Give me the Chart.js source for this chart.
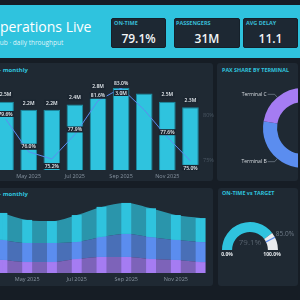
<!DOCTYPE html>
<html lang="en">
<head>
<meta charset="UTF-8">
<title>Operations Live</title>
<script src="https://cdn.jsdelivr.net/npm/chart.js"></script>
<style>
  body { margin: 0; width: 300px; height: 300px; overflow: hidden; position: relative;
         background: #161d25; font-family: 'Open Sans', sans-serif; }
  .abs { position: absolute; white-space: nowrap; }
  .header { left: 0; top: 5px; width: 300px; height: 53px; background: #2fc3de; }
  .title { left: -11px; top: 19.6px; font-size: 14px; line-height: 14px; color: #fff; }
  .sub { left: -5px; top: 39.5px; font-size: 6.5px; line-height: 6.5px; color: rgba(255,255,255,0.85); }
  .card { background: #1d2833; border: 1px solid #15202a; border-radius: 2px; box-sizing: border-box; top: 18px; height: 30px; }
  .klbl { top: 21.2px; font-size: 5.5px; line-height: 5.5px; font-weight: 700; color: #38bcd6; }
  .kval { top: 32.5px; font-size: 12px; line-height: 12px; font-weight: 600; color: #f2f5f7; text-align: center; }
  .panel { background: #1f2933; border-radius: 3px; overflow: hidden; }
  .ptitle { font-weight: 700; color: #2fc3de; }
  .box { position: absolute; }
</style>
</head>
<body>
  <div class="abs header"></div>
  <div class="abs title">Operations Live</div>
  <div class="abs sub">Hub · daily throughput</div>

  <div class="abs card" style="left:111px;width:55px"></div>
  <div class="abs card" style="left:174px;width:66px"></div>
  <div class="abs card" style="left:243px;width:55px"></div>
  <div class="abs klbl" style="left:114px">ON-TIME</div>
  <div class="abs klbl" style="left:176px">PASSENGERS</div>
  <div class="abs klbl" style="left:246px">AVG DELAY</div>
  <div class="abs kval" id="kv0" style="left:111px;width:55px"></div>
  <div class="abs kval" id="kv1" style="left:174px;width:66px"></div>
  <div class="abs kval" id="kv2" style="left:243px;width:55px"></div>

  <div class="abs panel" style="left:-10px;top:63px;width:223px;height:118px"></div>
  <div class="abs panel" id="paxPanel" style="left:217px;top:63px;width:81px;height:118px">
    <div class="box" style="left:1px;top:15px;width:170px;height:100px"><canvas id="shareChart"></canvas></div>
  </div>
  <div class="abs panel" style="left:-10px;top:188px;width:223px;height:98px"></div>
  <div class="abs panel" style="left:218px;top:188px;width:80px;height:98px"></div>

  <div class="abs ptitle" style="right:272px;top:66.5px;font-size:6px;line-height:6px">Passengers &amp; on-time % — monthly</div>
  <div class="abs ptitle" style="left:222px;top:68.2px;font-size:5.4px;line-height:5.4px">PAX SHARE BY TERMINAL</div>
  <div class="abs ptitle" style="right:272px;top:190.7px;font-size:6px;line-height:6px">Passengers by terminal – monthly</div>
  <div class="abs ptitle" style="left:222px;top:191px;font-size:5.4px;line-height:5.4px">ON-TIME vs TARGET</div>

  <div class="box" style="left:-16px;top:80px;width:232px;height:102px"><canvas id="paxChart"></canvas></div>
  <div class="box" style="left:-20px;top:196px;width:233px;height:89px"><canvas id="termChart"></canvas></div>
  <div class="box" style="left:212px;top:216px;width:90px;height:46px"><canvas id="gaugeChart"></canvas></div>

<script>
// data
const months = ['Apr 2025', 'May 2025', 'Jun 2025', 'Jul 2025', 'Aug 2025', 'Sep 2025', 'Oct 2025', 'Nov 2025', 'Dec 2025'];
const passengersM = [2.5, 2.2, 2.2, 2.4, 2.8, 3.0, 2.8, 2.5, 2.3];
const onTimePct = [79.6, 76.0, 75.2, 77.9, 81.6, 83.0, 80.6, 77.6, 75.0];

const terminals = ['Terminal A', 'Terminal B', 'Terminal C'];
const terminalShare = [13.8, 10.3, 6.9];
const termA = [1.16, 0.99, 0.94, 1.16, 1.29, 1.33, 1.24, 1.07, 1.03];
const termB = [0.86, 0.82, 0.82, 0.73, 0.86, 0.99, 0.94, 0.86, 0.86];
const termC = [0.56, 0.47, 0.47, 0.60, 0.69, 0.69, 0.60, 0.56, 0.47];

const kpiValues = ['79.1%', '31M', '11.1'];
const onTime = 79.1;
const onTimeTarget = 85.0;

const CYAN = '#2fc3de', BLUE = '#5b8def', PURPLE = '#a57cf2';

kpiValues.forEach((v, i) => { document.getElementById('kv' + i).textContent = v; });

Chart.defaults.font.family = "'Open Sans', sans-serif";
Chart.defaults.animation = false;

function labelBox(ctx, text, x, y) {
    ctx.font = '600 5px "Open Sans"';
    const w = ctx.measureText(text).width + 3;
    ctx.fillStyle = '#1b2530';
    ctx.fillRect(x - w / 2, y - 3, w, 6);
    ctx.fillStyle = '#e8edf1';
    ctx.textAlign = 'center';
    ctx.textBaseline = 'middle';
    ctx.fillText(text, x, y + 0.3);
}

// value boxes on bars and on the on-time line
const valueLabels = {
    id: 'valueLabels',
    afterDatasetsDraw(chart) {
        const ctx = chart.ctx;
        const bars = chart.getDatasetMeta(0).data;
        const pts = chart.getDatasetMeta(1).data;
        const axisMin = chart.scales.y1.min;
        ctx.save();
        months.forEach((m, i) => {
            if (m === 'Oct 2025') return; // no labels shown for October in the reference
            const p = pts[i], b = bars[i];
            const pctY = onTimePct[i] - axisMin < 1.5 ? p.y + 7 : p.y - 5;
            let barY = b.y - 7;
            if (Math.abs(barY - pctY) < 7) barY = b.y + 5;
            labelBox(ctx, passengersM[i].toFixed(1) + 'M', b.x, barY);
            labelBox(ctx, onTimePct[i].toFixed(1) + '%', p.x, pctY);
        });
        ctx.restore();
    }
};

new Chart(document.getElementById('paxChart'), {
    type: 'bar',
    data: {
        labels: months,
        datasets: [
            { type: 'bar', data: passengersM, backgroundColor: CYAN, borderColor: '#1a8ba2', borderWidth: 1, yAxisID: 'y', order: 2 },
            { type: 'line', data: onTimePct, borderColor: BLUE, borderWidth: 1, pointRadius: 0, tension: 0, yAxisID: 'y1', order: 1 }
        ]
    },
    options: {
        responsive: true,
        maintainAspectRatio: false,
        layout: { padding: { left: 10, top: 8, right: 0, bottom: 0 } },
        plugins: { legend: { display: false }, tooltip: { enabled: false } },
        scales: {
            x: {
                grid: { display: false, drawTicks: false },
                border: { display: false },
                ticks: { autoSkip: false, maxRotation: 0, padding: 3, color: '#8793a0', font: { size: 5.5 },
                         callback: (v, i) => i % 2 === 1 ? months[i] : '' },
                afterFit: s => { s.height = 12; }
            },
            y: { display: false, min: 0, max: 3.0 },
            y1: {
                position: 'right', min: 74, max: 83,
                grid: { display: false, drawTicks: false },
                border: { display: false },
                ticks: { padding: 1, color: '#4b5764', font: { size: 5.5 }, callback: v => v + '%' },
                afterBuildTicks: s => { s.ticks = [{ value: 75 }, { value: 80 }]; },
                afterFit: s => { s.width = 14; }
            }
        }
    },
    plugins: [valueLabels]
});

// leader-line labels for the terminal doughnut
const terminalLabels = {
    id: 'terminalLabels',
    afterDatasetsDraw(chart) {
        const ctx = chart.ctx;
        ctx.save();
        ctx.font = '5px "Open Sans"';
        ctx.textBaseline = 'middle';
        chart.getDatasetMeta(0).data.forEach((arc, i) => {
            const mid = (arc.startAngle + arc.endAngle) / 2;
            const r = arc.outerRadius;
            const x1 = arc.x + Math.cos(mid) * r, y1 = arc.y + Math.sin(mid) * r;
            const x2 = arc.x + Math.cos(mid) * (r + 4), y2 = arc.y + Math.sin(mid) * (r + 4);
            const left = Math.cos(mid) < 0;
            const x3 = left ? x2 - 7 : x2 + 7;
            ctx.strokeStyle = '#8a95a1';
            ctx.lineWidth = 0.6;
            ctx.beginPath();
            ctx.moveTo(x1, y1); ctx.lineTo(x2, y2); ctx.lineTo(x3, y2);
            ctx.stroke();
            ctx.fillStyle = '#d9dee3';
            ctx.textAlign = left ? 'right' : 'left';
            ctx.fillText(terminals[i], left ? x3 - 1 : x3 + 1, y2);
        });
        ctx.restore();
    }
};

new Chart(document.getElementById('shareChart'), {
    type: 'doughnut',
    data: {
        labels: terminals,
        datasets: [{ data: terminalShare, backgroundColor: [CYAN, BLUE, PURPLE], borderWidth: 0 }]
    },
    options: {
        responsive: true,
        maintainAspectRatio: false,
        cutout: '65%',
        layout: { padding: 10 },
        plugins: { legend: { display: false }, tooltip: { enabled: false } }
    },
    plugins: [terminalLabels]
});

function fade(hex, a) {
    const n = parseInt(hex.slice(1), 16);
    return `rgba(${n >> 16}, ${(n >> 8) & 255}, ${n & 255}, ${a})`;
}

// stacked areas over thin stacked bars
const areaDs = (data, color, fill) => ({
    type: 'line', data, fill, backgroundColor: fade(color, 0.7), borderColor: 'transparent', borderWidth: 0,
    pointRadius: 0, cubicInterpolationMode: 'monotone', order: 1
});
const barDs = (data, color) => ({
    type: 'bar', data, backgroundColor: color, borderWidth: 0, barPercentage: 0.5, categoryPercentage: 0.8, order: 2
});

new Chart(document.getElementById('termChart'), {
    type: 'bar',
    data: {
        labels: months,
        datasets: [
            areaDs(termC, PURPLE, 'origin'),
            areaDs(termB, BLUE, '-1'),
            areaDs(termA, CYAN, '-1'),
            barDs(termC, PURPLE),
            barDs(termB, BLUE),
            barDs(termA, CYAN)
        ]
    },
    options: {
        responsive: true,
        maintainAspectRatio: false,
        layout: { padding: { left: 10, top: 6, right: 0, bottom: 0 } },
        plugins: { legend: { display: false }, tooltip: { enabled: false } },
        scales: {
            x: {
                stacked: true,
                grid: { display: false, drawTicks: false },
                border: { display: false },
                ticks: { autoSkip: false, maxRotation: 0, padding: 3, color: '#8793a0', font: { size: 5.5 },
                         callback: (v, i) => i % 2 === 1 ? months[i] : '' },
                afterFit: s => { s.height = 12; }
            },
            y: { display: false, stacked: true, min: 0, max: 3.05 }
        }
    }
});

// target tick and texts for the gauge
const gaugeMarks = {
    id: 'gaugeMarks',
    afterDatasetsDraw(chart) {
        const ctx = chart.ctx;
        const arc = chart.getDatasetMeta(0).data[0];
        const cx = arc.x, cy = arc.y, ri = arc.innerRadius, ro = arc.outerRadius;
        const a = Math.PI * (1 + onTimeTarget / 100);
        ctx.save();
        ctx.strokeStyle = BLUE;
        ctx.lineWidth = 1.2;
        ctx.beginPath();
        ctx.moveTo(cx + Math.cos(a) * ri, cy + Math.sin(a) * ri);
        ctx.lineTo(cx + Math.cos(a) * ro, cy + Math.sin(a) * ro);
        ctx.stroke();

        ctx.textBaseline = 'middle';
        ctx.font = '6.5px "Open Sans"';
        ctx.fillStyle = '#6f7b88';
        ctx.textAlign = 'left';
        ctx.fillText(onTimeTarget.toFixed(1) + '%', cx + Math.cos(a) * (ro + 1), cy + Math.sin(a) * (ro + 1) - 3);

        ctx.font = '8px "Open Sans"';
        ctx.fillStyle = '#56616d';
        ctx.textAlign = 'center';
        ctx.fillText(onTime.toFixed(1) + '%', cx, cy - 7);

        const rm = (ri + ro) / 2;
        ctx.font = '700 5px "Open Sans"';
        ctx.fillStyle = '#e6eaee';
        ctx.fillText('0.0%', cx - rm, cy + 5);
        ctx.fillText('100.0%', cx + rm - 1, cy + 5);
        ctx.restore();
    }
};

new Chart(document.getElementById('gaugeChart'), {
    type: 'doughnut',
    data: {
        labels: ['On-time', 'Rest'],
        datasets: [{ data: [onTime, 100 - onTime], backgroundColor: [CYAN, '#e9ebee'], borderWidth: 0 }]
    },
    options: {
        responsive: true,
        maintainAspectRatio: false,
        rotation: -90,
        circumference: 180,
        cutout: '64%',
        layout: { padding: { left: 10, right: 24, top: 6, bottom: 12 } },
        plugins: { legend: { display: false }, tooltip: { enabled: false } }
    },
    plugins: [gaugeMarks]
});
</script>
</body>
</html>
